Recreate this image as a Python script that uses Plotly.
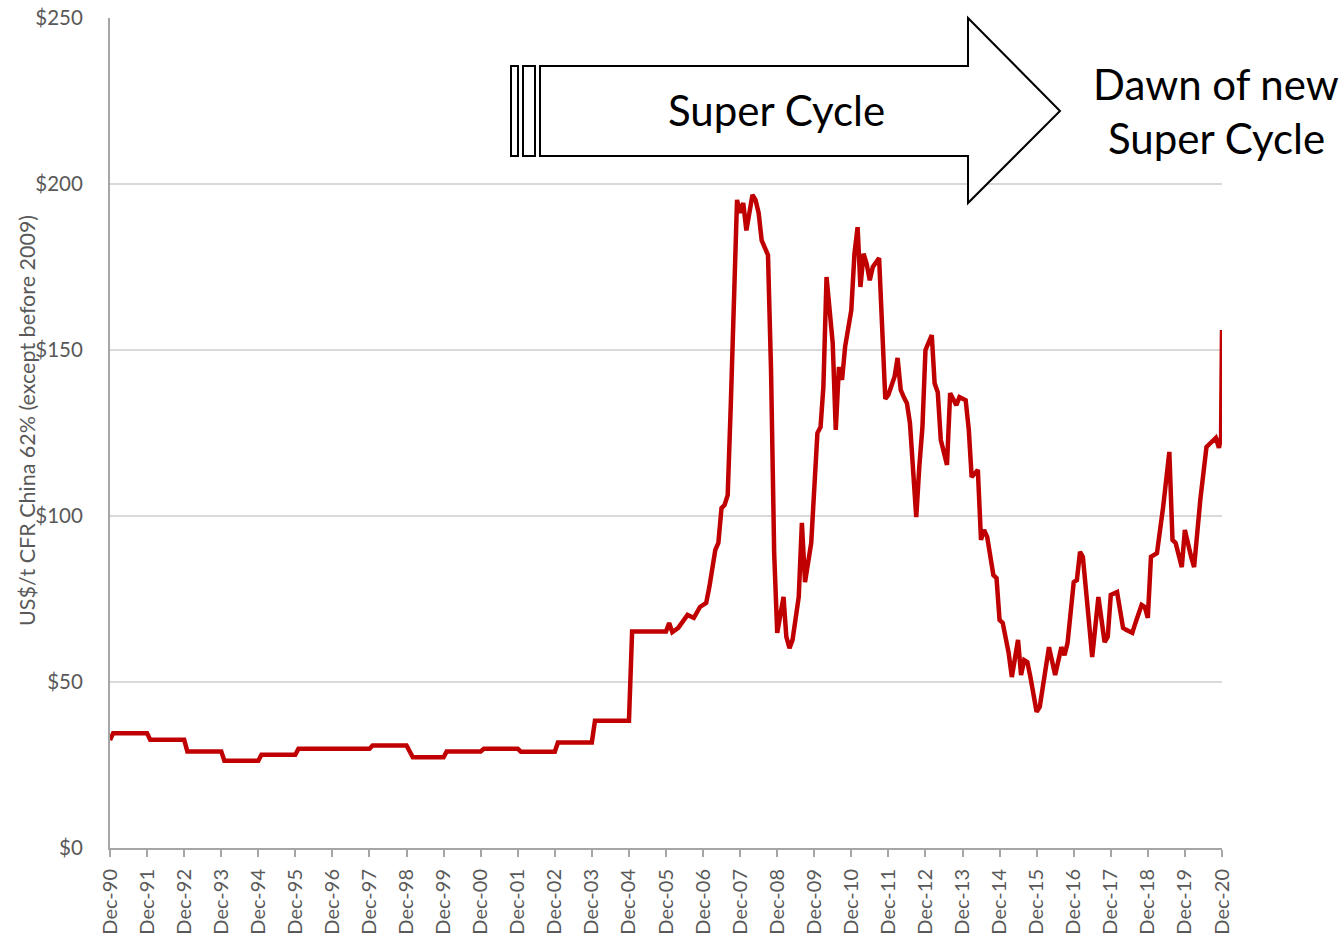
import plotly.graph_objects as go

# Monthly iron ore price (US$/t CFR China 62%)
dates = [
    "1990-12", "1991-01", "1991-12", "1992-01", "1992-12", "1993-01", "1993-12", "1994-01",
    "1994-12", "1995-01", "1995-12", "1996-01", "1997-12", "1998-01", "1998-12", "1999-02",
    "1999-12", "2000-01", "2000-12", "2001-01", "2001-12", "2002-01", "2002-12", "2003-01",
    "2003-12", "2004-01", "2004-12", "2005-01", "2005-12", "2006-01", "2006-02", "2006-04",
    "2006-07", "2006-09", "2006-11", "2007-01", "2007-02", "2007-04", "2007-05", "2007-06",
    "2007-07", "2007-08", "2007-09", "2007-10", "2007-11", "2007-12", "2008-01", "2008-02",
    "2008-04", "2008-05", "2008-06", "2008-07", "2008-09", "2008-10", "2008-11", "2008-12",
    "2009-01", "2009-02", "2009-03", "2009-04", "2009-05", "2009-07", "2009-08", "2009-09",
    "2009-11", "2009-12", "2010-01", "2010-02", "2010-03", "2010-04", "2010-06", "2010-07",
    "2010-08", "2010-09", "2010-10", "2010-12", "2011-01", "2011-02", "2011-03", "2011-04",
    "2011-05", "2011-06", "2011-07", "2011-09", "2011-10", "2011-11", "2011-12", "2012-01",
    "2012-02", "2012-03", "2012-04", "2012-05", "2012-06", "2012-07", "2012-09", "2012-10",
    "2012-11", "2012-12", "2013-02", "2013-03", "2013-04", "2013-05", "2013-07", "2013-08",
    "2013-10", "2013-11", "2014-01", "2014-02", "2014-03", "2014-05", "2014-06", "2014-07",
    "2014-08", "2014-10", "2014-11", "2014-12", "2015-01", "2015-03", "2015-04", "2015-06",
    "2015-07", "2015-08", "2015-09", "2015-10", "2015-12", "2016-01", "2016-03", "2016-04",
    "2016-06", "2016-08", "2016-09", "2016-10", "2016-12", "2017-01", "2017-02", "2017-03",
    "2017-05", "2017-06", "2017-08", "2017-10", "2017-11", "2017-12", "2018-02", "2018-04",
    "2018-05", "2018-07", "2018-08", "2018-10", "2018-11", "2018-12", "2019-01", "2019-03",
    "2019-05", "2019-07", "2019-08", "2019-09", "2019-11", "2019-12", "2020-02", "2020-03",
    "2020-05", "2020-07", "2020-10", "2020-11", "2020-11-22", "2020-12",
]
prices = [
    32.5, 34.6, 34.6, 32.6, 32.6, 29.1, 29.1, 26.3,
    26.3, 28.1, 28.1, 29.9, 29.9, 30.9, 30.9, 27.3,
    27.3, 29.1, 29.1, 29.9, 29.9, 29.0, 29.0, 31.8,
    31.8, 38.3, 38.3, 65.2, 65.2, 67.8, 65.0, 66.3,
    70.2, 69.3, 72.6, 73.8, 78.6, 89.8, 91.9, 102.4,
    103.3, 106.3, 134.0, 164.0, 195.2, 191.3, 194.3, 186.0,
    196.7, 195.2, 191.3, 183.0, 178.6, 144.0, 88.8, 64.8,
    70.8, 75.6, 63.6, 60.2, 62.7, 75.6, 97.9, 80.1,
    91.9, 106.0, 125.0, 126.8, 138.9, 172.0, 152.0, 125.9,
    144.9, 141.0, 151.0, 162.0, 179.0, 187.0, 169.0, 179.0,
    176.0, 171.0, 175.0, 177.7, 153.6, 135.3, 136.5, 139.0,
    142.0, 147.6, 138.0, 135.8, 134.0, 128.0, 99.7, 114.8,
    126.8, 150.0, 154.5, 140.0, 137.3, 122.9, 115.4, 137.0,
    133.4, 135.8, 134.9, 125.9, 111.7, 113.9, 92.8, 95.8,
    93.7, 82.2, 81.3, 68.7, 67.8, 58.7, 51.5, 62.7,
    52.1, 56.6, 56.0, 51.5, 41.0, 42.5, 53.6, 60.5,
    52.1, 60.5, 58.1, 61.7, 80.1, 80.7, 89.2, 87.7,
    67.8, 57.5, 75.6, 62.0, 63.6, 76.2, 77.1, 66.3,
    65.7, 64.8, 67.8, 73.2, 72.6, 69.3, 87.7, 88.8,
    102.7, 119.3, 92.8, 91.9, 84.6, 95.8, 87.7, 84.6,
    104.8, 120.8, 123.5, 120.5, 124.0, 156.0,
]

y_tick_values = [0, 50, 100, 150, 200, 250]
y_tick_labels = ["$0", "$50", "$100", "$150", "$200", "$250"]
y_title = "US$/t CFR China 62% (except before 2009)"
arrow_text = "Super Cycle"
side_text = ["Dawn of new", "Super Cycle"]

FONT = "Lato"
GREY = "#595959"

fig = go.Figure()
fig.add_trace(go.Scatter(
    x=dates, y=prices, mode="lines",
    line=dict(color="#C00000", width=4.5),
    hoverinfo="x+y", showlegend=False,
))

W, H = 1344, 937
L, R, T, B = 110, 122, 18, 89
pw, ph = W - L - R, H - T - B


def px(x):
    return (x - L) / pw


def py(y):
    return (H - B - y) / ph


# Block arrow
arrow_path = "M {a},{b} L {c},{b} L {c},{d} L {e},{f} L {c},{g} L {c},{h} L {a},{h} Z".format(
    a=px(540), b=py(66), c=px(968), d=py(18), e=px(1060), f=py(111), g=py(203), h=py(156))

shapes = [
    dict(type="path", path=arrow_path, xref="paper", yref="paper",
         line=dict(color="black", width=2), fillcolor="white", layer="above"),
    dict(type="rect", xref="paper", yref="paper", x0=px(511), x1=px(518), y0=py(156), y1=py(66),
         line=dict(color="black", width=2), fillcolor="white", layer="above"),
    dict(type="rect", xref="paper", yref="paper", x0=px(523), x1=px(535), y0=py(156), y1=py(66),
         line=dict(color="black", width=2), fillcolor="white", layer="above"),
]

annotations = [
    dict(text=arrow_text, xref="paper", yref="paper", x=px(776), y=py(110),
         xanchor="center", yanchor="middle", showarrow=False,
         font=dict(family=FONT, size=42, color="black")),
    dict(text=side_text[0], xref="paper", yref="paper", x=px(1216), y=py(84),
         xanchor="center", yanchor="middle", showarrow=False,
         font=dict(family=FONT, size=42, color="black")),
    dict(text=side_text[1], xref="paper", yref="paper", x=px(1216), y=py(138),
         xanchor="center", yanchor="middle", showarrow=False,
         font=dict(family=FONT, size=42, color="black")),
    dict(text=y_title, xref="paper", yref="paper", x=px(27), y=py(421),
         xanchor="center", yanchor="middle", showarrow=False, textangle=-90,
         font=dict(family=FONT, size=21.5, color=GREY)),
]

fig.update_layout(
    width=W, height=H,
    margin=dict(l=L, r=R, t=T, b=B, autoexpand=False),
    paper_bgcolor="white", plot_bgcolor="white",
    shapes=shapes, annotations=annotations,
    xaxis=dict(
        type="date", range=["1990-12-01", "2020-12-01"],
        tick0="1990-12-01", dtick="M12", tickformat="%b-%y",
        tickangle=-90, ticks="outside", ticklen=7, tickcolor="#A6A6A6", tickwidth=2,
        showgrid=False, zeroline=False,
        showline=True, linecolor="#A6A6A6", linewidth=2,
        tickfont=dict(family=FONT, size=20, color=GREY),
        ticklabelstandoff=4, automargin=False,
    ),
    yaxis=dict(
        range=[0, 250], tickvals=y_tick_values, ticktext=y_tick_labels,
        showgrid=True, gridcolor="#D9D9D9", gridwidth=2,
        zeroline=False, showline=True, linecolor="#A6A6A6", linewidth=2,
        ticks="", tickfont=dict(family=FONT, size=20.5, color=GREY),
        ticklabelstandoff=21, automargin=False,
    ),
)

fig.write_html("out.html", config={"displayModeBar": False},
               post_script="document.body.style.margin='0';")
